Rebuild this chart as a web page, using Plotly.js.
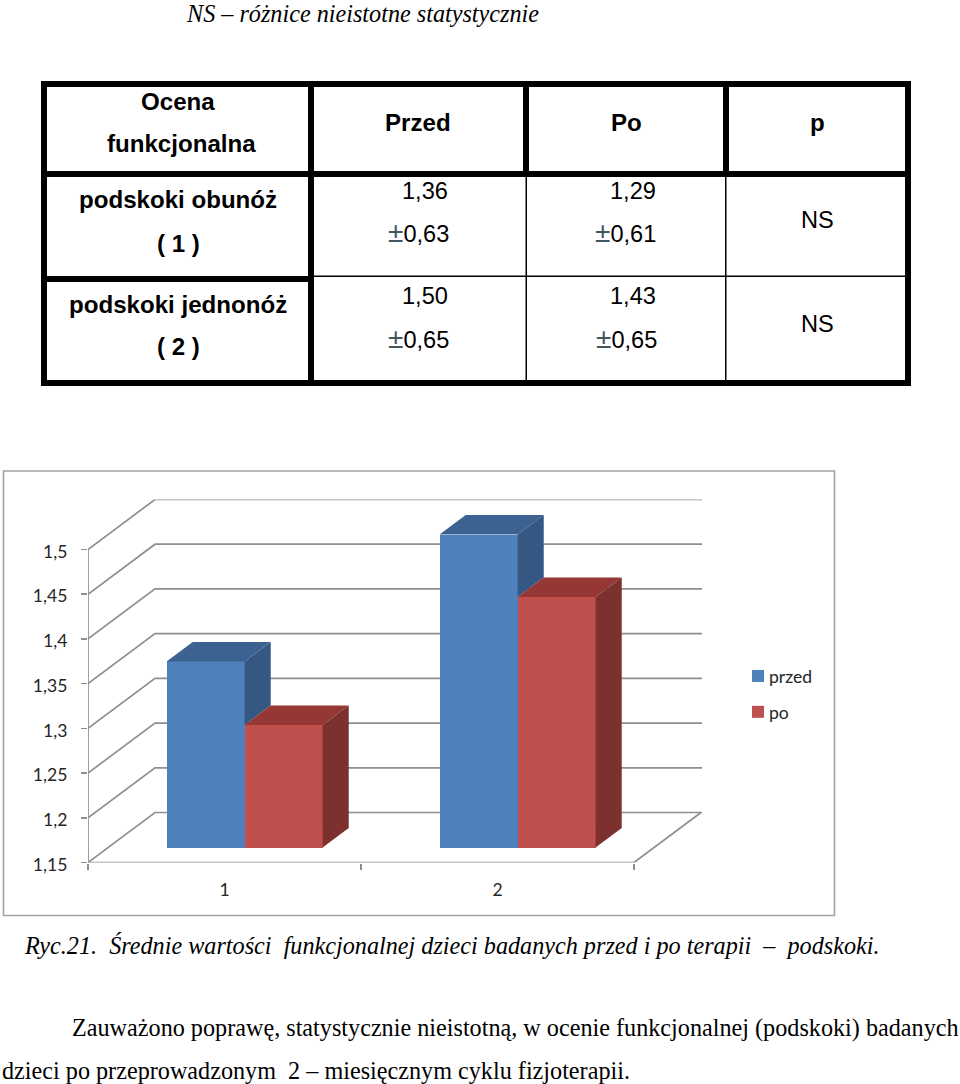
<!DOCTYPE html>
<html><head><meta charset="utf-8">
<script src="https://cdn.plot.ly/plotly-3.0.1.min.js"></script>
<style>html,body{margin:0;padding:0;background:#fff}</style></head>
<body><div id="chart" style="width:960px;height:1084px"></div>
<script>
// ---- chart data ----
const categories = [1, 2];
const przed = [1.358, 1.5];
const po = [1.287, 1.43];
const seriesNames = ['przed', 'po'];
const yTicks = [1.15, 1.2, 1.25, 1.3, 1.35, 1.4, 1.45, 1.5];
const yTickLabels = ['1,15', '1,2', '1,25', '1,3', '1,35', '1,4', '1,45', '1,5'];
const xTickLabels = ['1', '2'];
// ---- table text ----
const tableHead = ['Ocena', 'funkcjonalna', 'Przed', 'Po', 'p'];
const rowNames = ['podskoki obunóż', '( 1 )', 'podskoki jednonóż', '( 2 )'];
const przedCells = ['1,36', '±0,63', '1,50', '±0,65'];
const poCells = ['1,29', '±0,61', '1,43', '±0,65'];
const pCells = ['NS', 'NS'];
// ---- page text ----
const noteText = 'NS – różnice nieistotne statystycznie';
const captionText = 'Ryc.21.\u00a0 Średnie wartości\u00a0 funkcjonalnej dzieci badanych przed i po terapii\u00a0 \u2013\u00a0 podskoki.';
const paraLine1 = 'Zauważono poprawę, statystycznie nieistotną, w ocenie funkcjonalnej (podskoki) badanych';
const paraLine2 = 'dzieci po przeprowadzonym\u00a0 2 – miesięcznym cyklu fizjoterapii.';

const W = 960, H = 1084;
const px = v => v / W, py = v => 1 - v / H;

// axis frame: one category is 273 px wide, 0.05 on the value axis is 44.714 px
const catPx = 273, stepPx = 44.714;
const plotL = 88, plotR = 702, plotT = 499.5, plotB = 862.5;
const xMin = 0.5, xMax = xMin + (plotR - plotL) / catPx, xEnd = 2.5;
const yMin = 1.15, yMax = yMin + (plotB - plotT) * 0.05 / stepPx;
const DX = 67 / catPx, DY = 50 * 0.05 / stepPx;   // oblique depth of the floor
const frontDepth = 0.3, barDepth = 0.39, barW = 78 / catPx;
const gridColor = '#8f8f8f';

const base = yMin + frontDepth * DY, shiftX = frontDepth * DX;
const ddx = barDepth * DX, ddy = barDepth * DY, rise = frontDepth * DY;

function face(xs, ys, color) {
  return {type: 'scatter', mode: 'lines', x: xs, y: ys, fill: 'toself', fillcolor: color,
    line: {width: 0, color: color}, showlegend: false, hoverinfo: 'skip'};
}
const traces = [];
traces.push({type: 'bar', name: seriesNames[0], legendgroup: 'a', x: categories.map(c => c + shiftX - barW / 2),
  y: przed.map(v => v - yMin), base: base, width: barW, marker: {color: '#4f81bd', line: {width: 0}}, hoverinfo: 'skip'});
traces.push({type: 'bar', name: seriesNames[1], legendgroup: 'b', x: categories.map(c => c + shiftX + barW / 2),
  y: po.map(v => v - yMin), base: base, width: barW, marker: {color: '#c0504d', line: {width: 0}}, hoverinfo: 'skip'});
categories.forEach((c, i) => {
  const xL = c + shiftX - barW, xM = c + shiftX, xR = c + shiftX + barW;
  const b = przed[i] + rise, r = po[i] + rise;
  traces.push(face([xL, xM, xM + ddx, xL + ddx, xL], [b, b, b + ddy, b + ddy, b], '#3c6291'));
  traces.push(face([xM, xM + ddx, xM + ddx, xM, xM], [b, b + ddy, r + ddy, r, b], '#345882'));
  traces.push(face([xM, xR, xR + ddx, xM + ddx, xM], [r, r, r + ddy, r + ddy, r], '#953735'));
  traces.push(face([xR, xR + ddx, xR + ddx, xR, xR], [r, r + ddy, base + ddy, base, r], '#7d312e'));
});

// walls and floor, from the tick values, through the data axes
const shapes = [];
function dataPath(pts) {
  return {type: 'path', xref: 'x', yref: 'y', layer: 'below',
    path: pts.map((p, i) => (i ? 'L' : 'M') + p[0] + ',' + p[1]).join(' '),
    line: {color: gridColor, width: 1.7}};
}
yTicks.forEach(v => shapes.push(dataPath([[xMin, v], [xMin + DX, v + DY], [xMax, v + DY]])));
shapes.push(dataPath([[xMin, yMin], [xEnd, yMin], [xEnd + DX, yMin + DY]]));
shapes.push(dataPath([[xMin, yMin], [xMin, yTicks[yTicks.length - 1]]]));

function box(x0, x1, y0, y1, fill) {
  return {type: 'rect', xref: 'paper', yref: 'paper', x0: px(x0), x1: px(x1), y0: py(y1), y1: py(y0),
    fillcolor: fill, line: {width: 0}, layer: 'above'};
}
// chart frame
shapes.push({type: 'rect', xref: 'paper', yref: 'paper', x0: px(3.5), x1: px(834.5), y0: py(915.5), y1: py(471),
  line: {color: '#a3a3a3', width: 1.6}, fillcolor: 'rgba(0,0,0,0)', layer: 'below'});
// table rules
[[41, 911, 81, 87], [41, 911, 380, 386], [41, 911, 171, 177], [41, 47, 81, 386], [905, 911, 81, 386],
 [308, 314, 81, 386], [523, 529, 81, 177], [723, 729, 81, 177], [41, 314, 276, 282],
 [314, 905, 275.5, 277], [525.5, 527, 177, 380], [725, 726.5, 177, 380]]
  .forEach(r => shapes.push(box(r[0], r[1], r[2], r[3], '#000')));

const serif = 'Liberation Serif', sans = 'Liberation Sans';
const annotations = [];
function label(text, x, y, anchor, family, size) {
  annotations.push({text: text, x: px(x), y: py(y), xref: 'paper', yref: 'paper', showarrow: false,
    xanchor: anchor, yanchor: 'middle', align: anchor, borderpad: 0,
    font: {family: family, size: size, color: '#000'}});
}
const HS = 24.1, CS = 23.6, TS = 24.2;
const plusMinus = s => s.replace('±', '<span style="font-size:28px;color:#3f5560">±</span>');
[[178, 102], [181, 143], [418, 122], [626, 122], [817, 123]].forEach((p, i) =>
  label('<b>' + tableHead[i] + '</b>', p[0], p[1], 'center', sans, HS));
[[178, 199], [178, 243], [178, 304], [178, 347]].forEach((p, i) =>
  label('<b>' + rowNames[i] + '</b>', p[0], p[1], 'center', sans, HS));
[[425, 191], [418, 232], [425, 296], [418, 338]].forEach((p, i) => label(plusMinus(przedCells[i]), p[0], p[1], 'center', sans, CS));
[[633, 191], [625, 232], [633, 296], [626, 338]].forEach((p, i) => label(plusMinus(poCells[i]), p[0], p[1], 'center', sans, CS));
[[817, 220], [817, 324]].forEach((p, i) => label(pCells[i], p[0], p[1], 'center', sans, CS));
label('<i>' + noteText + '</i>', 185, 13.5, 'left', serif, TS);
label('<i>' + captionText + '</i>', 23, 945, 'left', serif, TS);
label(paraLine1, 71, 1028, 'left', serif, TS);
label(paraLine2, 1, 1070, 'left', serif, TS);

const tickFont = {family: 'Lato', size: 17.6, color: '#262626'};
const layout = {
  width: W, height: H, margin: {l: 0, r: 0, t: 0, b: 0, pad: 0},
  paper_bgcolor: '#fff', plot_bgcolor: 'rgba(0,0,0,0)', barmode: 'overlay', bargap: 0,
  font: {family: 'Lato', color: '#262626'}, separators: ', ',
  xaxis: {domain: [px(plotL), px(plotR)], range: [xMin, xMax], showgrid: false, zeroline: false, showline: false,
    tickmode: 'array', tickvals: categories, ticktext: xTickLabels, ticks: '', tickfont: tickFont,
    ticklabelstandoff: 15,
    minor: {tickmode: 'array', tickvals: [0.5, 1.5, 2.5], ticks: 'outside', ticklen: 6, tickwidth: 1.5, tickcolor: gridColor, showgrid: false}},
  yaxis: {domain: [py(plotB), py(plotT)], range: [yMin, yMax], showgrid: false, zeroline: false, showline: false,
    tickmode: 'array', tickvals: yTicks, ticktext: yTickLabels, ticks: 'outside', ticklen: 6, tickwidth: 1.5, tickcolor: gridColor,
    ticklabelstandoff: 10, ticklabelshift: 2, tickfont: tickFont},
  legend: {x: px(738), y: py(658), xanchor: 'left', yanchor: 'top', orientation: 'v', traceorder: 'grouped', tracegroupgap: 10,
    itemclick: false, itemdoubleclick: false, bgcolor: 'rgba(0,0,0,0)', font: {family: 'Lato', size: 17.6, color: '#262626'}},
  showlegend: true, shapes: shapes, annotations: annotations
};
Plotly.newPlot('chart', traces, layout, {staticPlot: true, displayModeBar: false}).then(() => {
  // the reference legend keeps its labels close to the colour squares
  document.querySelectorAll('#chart .legendtext').forEach(t => t.setAttribute('x', +t.getAttribute('x') - 9));
});
</script></body></html>
